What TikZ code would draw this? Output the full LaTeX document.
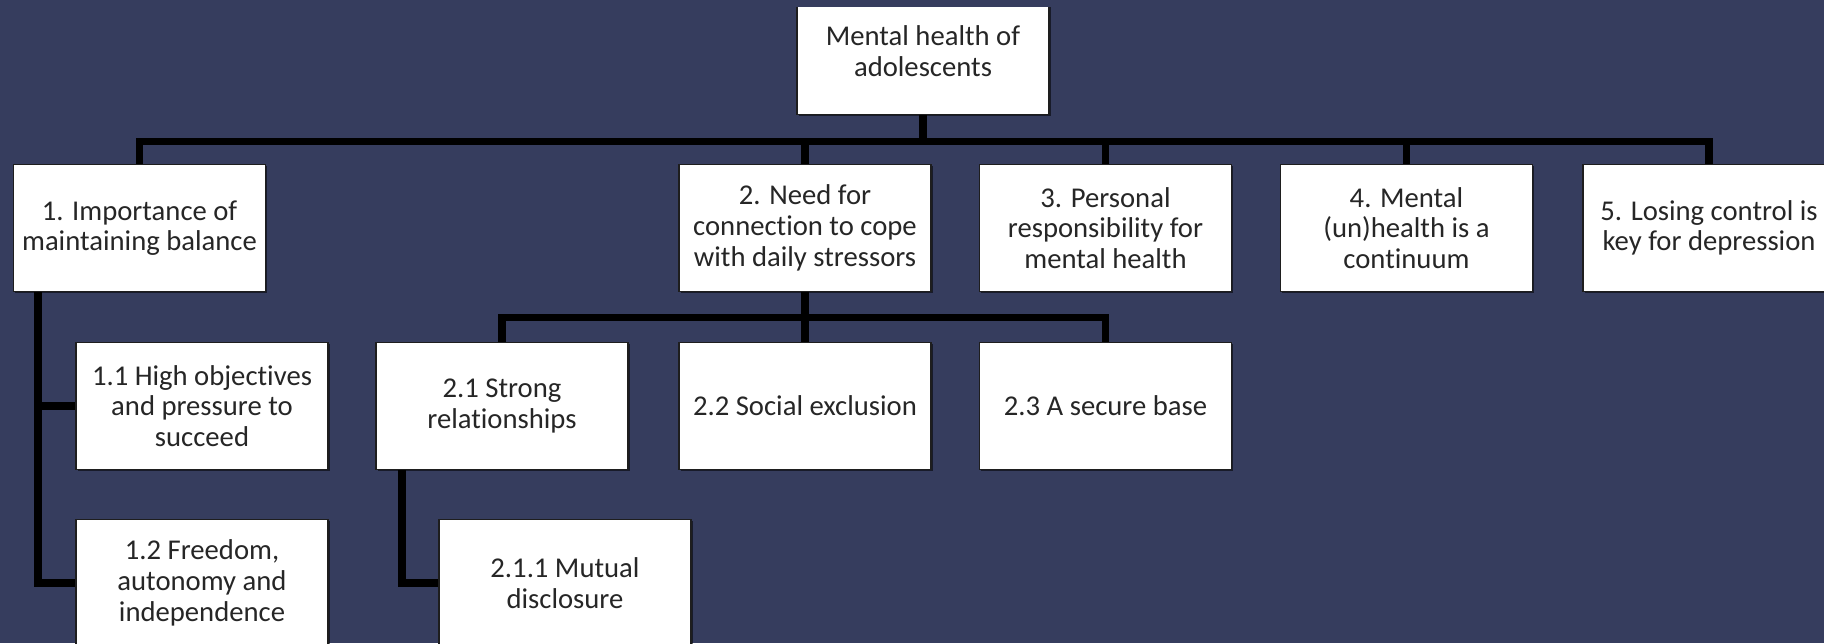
\documentclass[tikz,border=0pt]{standalone}
\usepackage{fontspec}
\setmainfont{Carlito}[Ligatures={NoCommon}]
\usetikzlibrary{shadows}

\definecolor{navybg}{RGB}{54,61,94}
\definecolor{boxtext}{RGB}{38,38,38}

\tikzset{every picture/.style={line width=0.75pt}}
\tikzset{
  box/.style={draw={rgb,255:red,30;green,30;blue,30}, line width=1.1pt, fill=white,
    minimum width=189pt, minimum height=95.5pt, inner sep=1pt, align=center,
    text=boxtext, font=\fontsize{21.5pt}{23pt}\selectfont,
    drop shadow={shadow xshift=1.2pt,shadow yshift=-1.2pt,fill=black,opacity=0.55}},
  link/.style={draw=black, line width=5.6pt}
}

\begin{document}
\begin{tikzpicture}[x=0.75pt,y=0.75pt,yscale=-1,xscale=1]
			%set diagram to 1824 x 643
			\useasboundingbox (0,0) rectangle (1824,643);
			\fill [navybg] (0,0) rectangle (1824,643);
			\clip (0,0) rectangle (1824,643);

			% Root
			\node [box] (root) at (923,51) {Mental health of\\adolescents};

			% Themes
			\node [box] (t1) at (139.5,228) {1. Importance of\\maintaining balance};
			\node [box] (t2) at (805,228) {2. Need for\\connection to cope\\with daily stressors};
			\node [box] (t3) at (1105.5,228) {3. Personal\\responsibility for\\mental health};
			\node [box] (t4) at (1406.5,228) {4. Mental\\(un)health is a\\continuum};
			\node [box] (t5) at (1709,228) {5. Losing control is\\key for depression};

			% Sub-themes
			\node [box] (t11) at (202,406) {1.1 High objectives\\and pressure to\\succeed};
			\node [box] (t12) at (202,583) {1.2 Freedom,\\autonomy and\\independence};
			\node [box] (t21) at (502,406) {2.1 Strong\\relationships};
			\node [box] (t22) at (805,406) {2.2 Social exclusion};
			\node [box] (t23) at (1105.5,406) {2.3 A secure base};
			\node [box] (t211) at (565,583) {2.1.1 Mutual\\disclosure};

			% top strip over the cut root box
			\fill [navybg] (0,0) rectangle (1824,7);

			% Connectors root -> themes
			\foreach \t in {t1,t2,t3,t4,t5}
			  \draw [link] (root.south) -- ++(0,26) -| (\t.north);
			% Connectors theme 2 -> sub-themes
			\foreach \t in {t21,t22,t23}
			  \draw [link] (t2.south) -- ++(0,25) -| (\t.north);
			% Side connectors
			\draw [link] ([xshift=19pt]t1.south west) |- (t11.west);
			\draw [link] ([xshift=19pt]t1.south west) |- (t12.west);
			\draw [link] ([xshift=20pt]t21.south west) |- (t211.west);

\end{tikzpicture}
\end{document}
